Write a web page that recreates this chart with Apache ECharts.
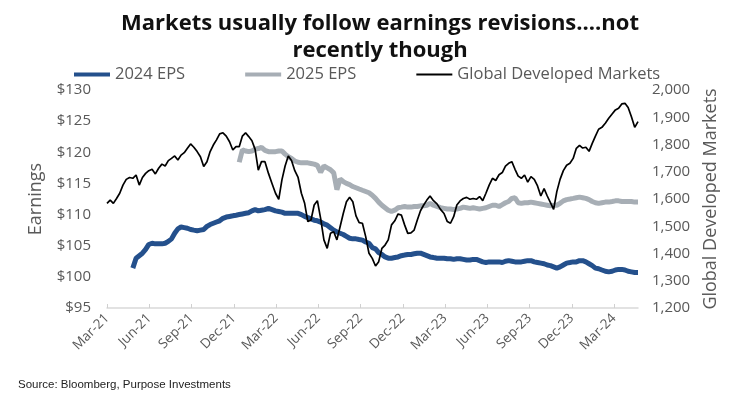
<!DOCTYPE html>
<html>
<head>
<meta charset="utf-8">
<script src="https://cdn.jsdelivr.net/npm/echarts@6/dist/echarts.min.js"></script>
<style>
  html, body { margin: 0; padding: 0; background: #fff; }
  #chart { width: 746px; height: 397px; }
</style>
</head>
<body>
<div id="chart"></div>
<script>
// weekly readings, first week = 2021-03-01
const firstWeek = '2021-03-01'

// Global Developed Markets (right axis), from week 0
const marketsStartWeek = 0
const markets = [
  1584, 1596, 1584, 1602, 1621, 1651, 1672, 1679, 1676, 1688,
  1651, 1679, 1694, 1704, 1709, 1692, 1713, 1728, 1721, 1741,
  1749, 1758, 1743, 1761, 1770, 1786, 1802, 1790, 1774, 1755,
  1719, 1737, 1774, 1798, 1817, 1839, 1843, 1831, 1810, 1780,
  1792, 1792, 1831, 1843, 1829, 1814, 1782, 1706, 1737, 1737,
  1694, 1657, 1621, 1599, 1670, 1721, 1758, 1741, 1704, 1679,
  1621, 1584, 1517, 1523, 1578, 1594, 1529, 1450, 1419, 1474,
  1480, 1450, 1498, 1547, 1590, 1606, 1590, 1538, 1513, 1511,
  1462, 1401, 1382, 1354, 1370, 1419, 1431, 1450, 1505, 1520,
  1545, 1541, 1505, 1474, 1476, 1486, 1523, 1557, 1578, 1596,
  1611, 1594, 1582, 1562, 1547, 1517, 1511, 1535, 1578, 1593,
  1602, 1606, 1599, 1602, 1599, 1609, 1594, 1621, 1651, 1676,
  1668, 1689, 1697, 1721, 1731, 1737, 1709, 1684, 1676, 1688,
  1662, 1682, 1672, 1648, 1611, 1638, 1611, 1587, 1562, 1627,
  1672, 1704, 1724, 1731, 1749, 1786, 1797, 1787, 1790, 1775,
  1804, 1831, 1856, 1863, 1878, 1896, 1912, 1927, 1933, 1949,
  1951, 1936, 1902, 1863, 1884
]

// 2024 EPS (left axis), from week 8
const eps2024StartWeek = 8
const eps2024 = [
  101.4, 103.0, 103.4, 103.8, 104.4, 105.2, 105.4, 105.3, 105.3, 105.3,
  105.4, 105.7, 106.1, 107.0, 107.7, 108.0, 107.9, 107.8, 107.6, 107.5,
  107.4, 107.5, 107.6, 108.1, 108.4, 108.6, 108.8, 109.0, 109.4, 109.6,
  109.7, 109.8, 109.9, 110.0, 110.1, 110.2, 110.3, 110.6, 110.8, 110.6,
  110.7, 110.8, 111.0, 110.8, 110.6, 110.5, 110.4, 110.2, 110.2, 110.2,
  110.2, 110.2, 110.0, 109.7, 109.5, 109.3, 109.1, 109.0, 108.8, 108.5,
  108.3, 107.9, 107.5, 107.2, 107.0, 106.8, 106.5, 106.2, 106.1, 106.1,
  106.0, 105.9, 105.6, 105.4, 104.7, 104.5, 103.9, 103.6, 103.2, 103.0,
  103.0, 103.1, 103.2, 103.4, 103.5, 103.6, 103.6, 103.7, 103.8, 103.8,
  103.6, 103.4, 103.2, 103.1, 103.0, 103.0, 103.0, 102.9, 102.9, 102.8,
  102.9, 102.9, 102.8, 102.7, 102.7, 102.8, 102.8, 102.6, 102.4, 102.3,
  102.4, 102.4, 102.4, 102.4, 102.3, 102.5, 102.6, 102.5, 102.4, 102.4,
  102.4, 102.5, 102.6, 102.6, 102.4, 102.3, 102.2, 102.1, 101.9, 101.8,
  101.6, 101.4, 101.6, 101.9, 102.2, 102.3, 102.4, 102.4, 102.6, 102.6,
  102.4, 102.1, 101.8, 101.4, 101.3, 101.1, 100.9, 100.8, 100.9, 101.1,
  101.2, 101.2, 101.1, 100.9, 100.8, 100.7, 100.7
]

// 2025 EPS (left axis), from week 41
const eps2025StartWeek = 41
const eps2025 = [
  118.4, 120.4, 120.2, 120.1, 120.2, 120.5, 120.6, 120.8, 120.3,
  120.1, 120.1, 120.1, 120.2, 120.2, 119.7, 119.3, 119.0, 118.6, 118.4,
  118.3, 118.3, 118.3, 118.2, 118.1, 117.9, 116.8, 117.8, 117.5, 117.2,
  116.7, 114.0, 115.7, 115.3, 115.0, 114.8, 114.5, 114.3, 114.1, 113.9,
  113.7, 113.5, 113.1, 112.6, 112.0, 111.5, 111.1, 110.7, 110.5, 110.7,
  111.1, 111.2, 111.3, 111.2, 111.2, 111.3, 111.3, 111.4, 111.4, 111.5,
  111.8, 111.5, 111.3, 111.1, 111.0, 110.9, 110.9, 110.8, 110.9, 111.0,
  111.2, 111.1, 111.0, 111.1, 111.0, 110.9, 111.0, 111.1, 111.3, 111.5,
  111.5, 111.3, 111.6, 111.9, 112.1, 112.6, 112.7, 111.9, 111.8, 111.9,
  111.9, 112.0, 111.9, 111.8, 111.7, 111.6, 111.5, 111.4, 111.5, 111.5,
  111.8, 112.2, 112.4, 112.5, 112.6, 112.7, 112.8, 112.7, 112.6, 112.4,
  112.1, 111.9, 111.8, 111.9, 112.0, 112.0, 112.1, 112.2, 112.2, 112.1,
  112.1, 112.1, 112.1, 112.0, 112.0
]

// one tick every 3 months from Mar-21
const tickLabels = [
  'Mar-21', 'Jun-21', 'Sep-21', 'Dec-21', 'Mar-22', 'Jun-22', 'Sep-22',
  'Dec-22', 'Mar-23', 'Jun-23', 'Sep-23', 'Dec-23', 'Mar-24'
]

const textColor = '#595959'
const font = 'Open Sans'
const blue = '#24508c'
const grey = '#a7aeb5'

// week index -> months since first week (x axis unit)
function weekToMonth(week) {
  const [y0, m0, d0] = firstWeek.split('-').map(Number)
  const d = new Date(Date.UTC(y0, m0 - 1, d0 + 7 * week))
  const y = d.getUTCFullYear()
  const m = d.getUTCMonth()
  const days = new Date(Date.UTC(y, m + 1, 0)).getUTCDate()
  return (y - y0) * 12 + (m - (m0 - 1)) + (d.getUTCDate() - 1) / days
}

function toPoints(values, startWeek) {
  return values.map((v, i) => [weekToMonth(startWeek + i), v])
}

const tickValues = tickLabels.map((_, i) => i * 3)

// legend icons: a bar inside a fixed 36x10 box (the moves keep the box size)
const thickIcon = 'path://M0,0M36,10M0,3H36V7H0Z'
const thinIcon = 'path://M0,0M36,10M0,4.1H36V5.9H0Z'

const chart = echarts.init(document.getElementById('chart'), null, { renderer: 'canvas' })

chart.setOption({
  animation: false,
  backgroundColor: '#fff',
  title: [
    {
      text: 'Markets usually follow earnings revisions....not\nrecently though',
      left: 375,
      top: 5,
      textAlign: 'center',
      textStyle: { fontFamily: font, fontSize: 22, fontWeight: 'bold', color: '#111', lineHeight: 27 }
    },
    {
      text: 'Source: Bloomberg, Purpose Investments',
      left: 13,
      top: 374,
      textStyle: { fontFamily: 'Liberation Sans', fontSize: 11.5, fontWeight: 'normal', color: '#222' }
    }
  ],
  legend: {
    top: 61,
    left: 69,
    itemGap: 60,
    itemWidth: 36,
    itemHeight: 10,
    textStyle: { fontFamily: font, fontSize: 16.5, color: textColor },
    data: [
      { name: '2024 EPS', icon: thickIcon },
      { name: '2025 EPS', icon: thickIcon },
      { name: 'Global Developed Markets', icon: thinIcon }
    ]
  },
  grid: { left: 107, right: 108, top: 90, bottom: 89 },
  xAxis: {
    type: 'value',
    min: 0,
    max: weekToMonth(marketsStartWeek + markets.length - 1),
    splitLine: { show: false },
    axisLine: { lineStyle: { color: '#d9d9d9', width: 1.5 } },
    axisTick: { inside: true, length: 4, customValues: tickValues, lineStyle: { color: '#d0d0d0' } },
    axisLabel: {
      customValues: tickValues,
      rotate: 45,
      margin: 8,
      fontFamily: font,
      fontSize: 13.5,
      color: textColor,
      formatter: v => tickLabels[Math.round(v / 3)] || ''
    }
  },
  yAxis: [
    {
      type: 'value',
      min: 95,
      max: 130,
      interval: 5,
      name: 'Earnings',
      nameLocation: 'middle',
      nameGap: 62,
      nameTextStyle: { fontFamily: font, fontSize: 18, color: textColor },
      splitLine: { show: false },
      axisLine: { show: false },
      axisTick: { show: false },
      axisLabel: { margin: 16, fontFamily: font, fontSize: 15, color: textColor, formatter: v => '$' + v }
    },
    {
      type: 'value',
      min: 1200,
      max: 2000,
      interval: 100,
      name: 'Global Developed Markets',
      nameLocation: 'middle',
      nameGap: 64,
      nameRotate: 90,
      nameTextStyle: { fontFamily: font, fontSize: 18, color: textColor },
      splitLine: { show: false },
      axisLine: { show: false },
      axisTick: { show: false },
      axisLabel: {
        margin: 14,
        fontFamily: font,
        fontSize: 15,
        color: textColor,
        formatter: v => v.toLocaleString('en-US')
      }
    }
  ],
  series: [
    {
      name: '2024 EPS',
      type: 'line',
      yAxisIndex: 0,
      showSymbol: false,
      symbol: 'none',
      data: toPoints(eps2024, eps2024StartWeek),
      lineStyle: { color: blue, width: 5 },
      itemStyle: { color: blue }
    },
    {
      name: '2025 EPS',
      type: 'line',
      yAxisIndex: 0,
      showSymbol: false,
      symbol: 'none',
      data: toPoints(eps2025, eps2025StartWeek),
      lineStyle: { color: grey, width: 5 },
      itemStyle: { color: grey }
    },
    {
      name: 'Global Developed Markets',
      type: 'line',
      yAxisIndex: 1,
      showSymbol: false,
      symbol: 'none',
      data: toPoints(markets, marketsStartWeek),
      lineStyle: { color: '#000', width: 1.7 },
      itemStyle: { color: '#000' }
    }
  ]
})
</script>
</body>
</html>
